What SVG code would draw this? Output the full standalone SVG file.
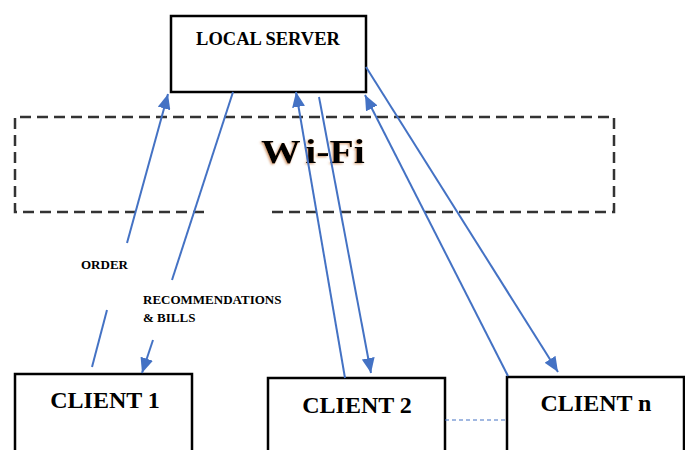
<svg xmlns="http://www.w3.org/2000/svg" width="685" height="450" viewBox="0 0 685 450">
<style>
.box{fill:#fff;stroke:#000;stroke-width:2.5}
.lbl{font-family:"Liberation Serif","Times New Roman",serif;font-weight:bold;fill:#000}
.wire{stroke:#4472C4;stroke-width:2;fill:none}
.wifi{fill:none;stroke:#333;stroke-width:2.5;stroke-dasharray:11 6}
</style>
<defs>
<marker id="ah" markerUnits="userSpaceOnUse" markerWidth="16" markerHeight="13" refX="15" refY="6.5" orient="auto">
<path d="M0,0 L15,6.5 L0,13 z" fill="#4472C4"/>
</marker>
<filter id="glow" x="-10%" y="-20%" width="120%" height="140%">
<feDropShadow dx="-1" dy="1" stdDeviation="0.8" flood-color="#c07030" flood-opacity="0.7"/>
</filter>
</defs>
<rect width="685" height="450" fill="#fff"/>
<g id="wifi">
<path class="wifi" d="M204,212 L15,212 L15,117 L614,117 L614,212 L266,212"/>
<text class="lbl" transform="translate(261,163) scale(1.2,1)" x="0" y="0" font-size="33" filter="url(#glow)">W<tspan dx="4">i-Fi</tspan></text>
</g>
<g id="server">
<rect class="box" x="171" y="16" width="195" height="76"/>
<text class="lbl" x="268" y="45" font-size="18.5" text-anchor="middle">LOCAL SERVER</text>
</g>
<g id="client1">
<rect class="box" x="15" y="374" width="177" height="90"/>
<text class="lbl" x="105" y="408" font-size="24" text-anchor="middle">CLIENT 1</text>
</g>
<g id="client2">
<rect class="box" x="268" y="378" width="177" height="90"/>
<text class="lbl" x="357" y="413" font-size="24" text-anchor="middle">CLIENT 2</text>
</g>
<g id="clientn">
<rect class="box" x="507" y="377" width="177" height="90"/>
<text class="lbl" x="596" y="411" font-size="24" text-anchor="middle">CLIENT n</text>
</g>
<g id="connectors">
<line class="wire" x1="92" y1="367" x2="107" y2="310"/>
<line class="wire" x1="127" y1="243" x2="168" y2="94" marker-end="url(#ah)"/>
<line class="wire" x1="233" y1="92" x2="172" y2="280"/>
<line class="wire" x1="153" y1="340" x2="142" y2="373" marker-end="url(#ah)"/>
<line class="wire" x1="345" y1="378" x2="296" y2="92" marker-end="url(#ah)"/>
<line class="wire" x1="319" y1="97" x2="371" y2="373" marker-end="url(#ah)"/>
<line class="wire" x1="508" y1="376" x2="365" y2="95" marker-end="url(#ah)"/>
<line class="wire" x1="366" y1="67" x2="558" y2="372" marker-end="url(#ah)"/>
<line x1="445" y1="420" x2="507" y2="420" stroke="#4472C4" stroke-width="1.2" stroke-dasharray="4 3"/>
</g>
<g id="labels">
<text class="lbl" x="81" y="269" font-size="13">ORDER</text>
<text class="lbl" x="143" y="304" font-size="13">RECOMMENDATIONS</text>
<text class="lbl" x="143" y="322" font-size="13">&amp; BILLS</text>
</g>
</svg>
